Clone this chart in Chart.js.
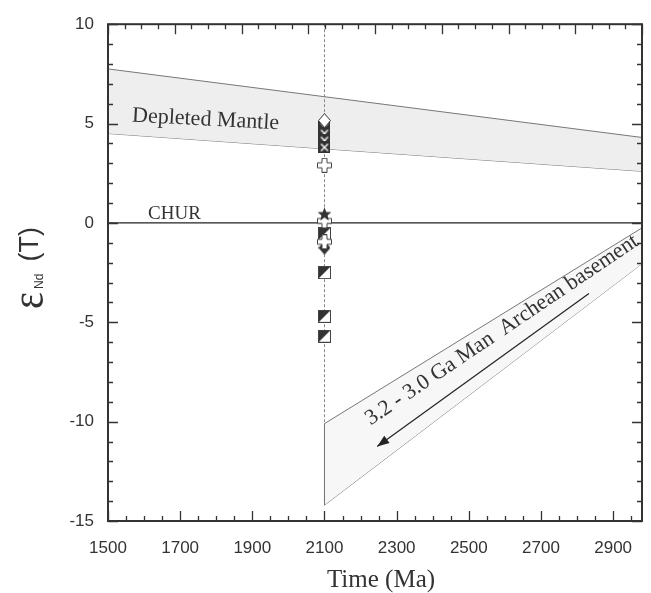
<!DOCTYPE html>
<html><head><meta charset="utf-8">
<script src="https://cdn.jsdelivr.net/npm/chart.js@4"></script>
<style>html,body{margin:0;padding:0;background:#fff}#wrap{width:651px;height:593px;position:relative}</style>
</head><body><div id="wrap"><canvas id="c" width="651" height="593" style="width:651px;height:593px"></canvas></div>
<script>
// ---------- data ----------
const xMajorTicks = [1500, 1700, 1900, 2100, 2300, 2500, 2700, 2900];
const yMajorTicks = [-15, -10, -5, 0, 5, 10];
const xRange = [1500, 2980];
const yRange = [-15, 10];
const xMinorStep = 50;
const yMinorStep = 1;
const topMajorCount = 8;   // top frame axis: 8 major divisions
const topMinorPerMajor = 4;

const sampleAge = 2100;
const openDiamondEps = [5.15];
const crossSquareEps = [4.85, 4.5, 4.15, 3.8];
const openPlusEps = [2.9, 0.1, -0.95];
const starEps = [0.45];
const halfSquareEps = [-0.55, -2.5, -4.7, -5.7];
const darkDiamondEps = [-1.25];

const dmAge = [1500, 2980];
const dmUpper = [7.75, 4.3];
const dmLower = [4.5, 2.6];

const archAge = [2100, 2980];
const archUpper = [-10.1, -0.25];
const archLower = [-14.2, -2.05];

const churAge = [1500, 2980];
const churEps = [0, 0];

const arrowAge = [2833, 2246];
const arrowEps = [-3.55, -11.25];

const textDM = 'Depleted Mantle';
const textCHUR = 'CHUR';
const textArch = '3.2 - 3.0 Ga Man  Archean basement';
const textX = 'Time (Ma)';

// ---------- helpers ----------
const pts = (xs, ys) => ys.map((v, i) => ({x: xs[i], y: v}));
const col = (ys) => ys.map(v => ({x: sampleAge, y: v}));
function mk(w, h, draw) { const c = document.createElement('canvas'); c.width = w; c.height = h; draw(c.getContext('2d'), w, h); return c; }
const INK = '#333';
const openDiamond = mk(13, 15, (g) => { g.beginPath(); g.moveTo(6.5,0.5); g.lineTo(12.5,7.5); g.lineTo(6.5,14.5); g.lineTo(0.5,7.5); g.closePath(); g.fillStyle='#fff'; g.fill(); g.strokeStyle=INK; g.lineWidth=1; g.stroke(); });
const crossSquare = mk(12, 12, (g) => { g.fillStyle=INK; g.fillRect(0,0,12,12); g.strokeStyle='#fff'; g.lineWidth=1.4; g.beginPath(); g.moveTo(2.5,2.5); g.lineTo(9.5,9.5); g.moveTo(9.5,2.5); g.lineTo(2.5,9.5); g.stroke(); });
const openPlus = mk(15, 15, (g) => { const p=[[5,0.5],[10,0.5],[10,5],[14.5,5],[14.5,10],[10,10],[10,14.5],[5,14.5],[5,10],[0.5,10],[0.5,5],[5,5]]; g.beginPath(); p.forEach((q,i)=> i?g.lineTo(q[0],q[1]):g.moveTo(q[0],q[1])); g.closePath(); g.fillStyle='#fff'; g.fill(); g.strokeStyle='#444'; g.lineWidth=1; g.stroke(); });
const star = mk(15, 15, (g) => { g.beginPath(); for (let i=0;i<10;i++){ const r = i%2?3:7.3; const a = -Math.PI/2 + i*Math.PI/5; const px=7.5+r*Math.cos(a), py=8+r*Math.sin(a); i?g.lineTo(px,py):g.moveTo(px,py);} g.closePath(); g.fillStyle=INK; g.fill(); });
const halfSquare = mk(13, 13, (g) => { g.fillStyle='#fff'; g.fillRect(0,0,13,13); g.beginPath(); g.moveTo(0,0); g.lineTo(13,0); g.lineTo(0,13); g.closePath(); g.fillStyle=INK; g.fill(); g.strokeStyle='#444'; g.lineWidth=1; g.strokeRect(0.5,0.5,12,12); });
const darkDiamond = mk(12, 14, (g) => { g.beginPath(); g.moveTo(6,0); g.lineTo(12,7); g.lineTo(6,14); g.lineTo(0,7); g.closePath(); g.fillStyle=INK; g.fill(); });

const lineDS = (data, extra) => Object.assign({data, showLine: true, pointRadius: 0, borderColor: '#777', borderWidth: 1, fill: false, tension: 0, order: 20}, extra);
const markDS = (data, style, order) => ({data, showLine: false, pointStyle: style, pointRadius: 6, order});

const annot = {
  id: 'annot',
  afterDatasetsDraw(chart) {
    const {ctx, chartArea: a, scales: {x, y, xTop}} = chart;
    ctx.save();
    // arrowhead
    const x1 = x.getPixelForValue(arrowAge[0]), y1 = y.getPixelForValue(arrowEps[0]);
    const x2 = x.getPixelForValue(arrowAge[1]), y2 = y.getPixelForValue(arrowEps[1]);
    const ang = Math.atan2(y2 - y1, x2 - x1);
    ctx.translate(x2, y2); ctx.rotate(ang);
    ctx.beginPath(); ctx.moveTo(0, 0); ctx.lineTo(-12, -4.5); ctx.lineTo(-12, 4.5); ctx.closePath();
    ctx.fillStyle = '#222'; ctx.fill();
    ctx.restore();

    // texts
    ctx.save();
    ctx.fillStyle = '#333';
    ctx.textBaseline = 'alphabetic';
    ctx.font = '22px "Liberation Serif", "Times New Roman", serif';
    ctx.save(); ctx.translate(x.getPixelForValue(1566), y.getPixelForValue(5.1)); ctx.rotate(3 * Math.PI / 180); ctx.fillText(textDM, 0, 0); ctx.restore();
    ctx.font = '19px "Liberation Serif", "Times New Roman", serif';
    ctx.fillText(textCHUR, x.getPixelForValue(1611), y.getPixelForValue(0.2));
    ctx.font = '22px "Liberation Serif", "Times New Roman", serif';
    ctx.save(); ctx.translate(x.getPixelForValue(2228), y.getPixelForValue(-10.2)); ctx.rotate(-34 * Math.PI / 180); ctx.fillText(textArch, 0, 0); ctx.restore();
    // x title
    ctx.font = '25px "Liberation Serif", "Times New Roman", serif';
    ctx.textAlign = 'center';
    ctx.fillText(textX, (a.left + a.right) / 2 + 6, 587);
    // y title
    ctx.save();
    ctx.translate(44, 268); ctx.rotate(-Math.PI / 2);
    ctx.textAlign = 'left';
    const fE = '46px "Liberation Serif", "Times New Roman", serif', fS = '12px "Liberation Sans", Arial, sans-serif', fT = '27px "Liberation Sans", Arial, sans-serif';
    ctx.font = fE; const wE = ctx.measureText('ε').width * 0.88;
    ctx.font = fS; const wS = ctx.measureText('Nd').width;
    ctx.font = fT; const wT = ctx.measureText('(T)').width;
    const total = wE + 3 + wS + 12 + wT; let cx = -total / 2;
    ctx.save(); ctx.translate(cx, -1); ctx.scale(0.88, 1); ctx.font = fE; ctx.fillText('ε', 0, 0); ctx.restore();
    cx += wE + 3;
    ctx.font = fS; ctx.fillText('Nd', cx, -1); cx += wS + 12;
    ctx.font = fT; ctx.fillText('(T)', cx, -6);
    ctx.restore();
    ctx.restore();

    // frame + inward ticks
    ctx.save();
    ctx.strokeStyle = '#333'; ctx.lineWidth = 1.3;
    const majX = x.ticks.map(t => t.value), majY = y.ticks.map(t => t.value);
    ctx.beginPath();
    for (let v = xRange[0]; v <= xRange[1] + 1e-9; v += xMinorStep) {
      const p = Math.round(x.getPixelForValue(v)) + 0.5;
      const L = majX.includes(v) ? 10 : 5;
      ctx.moveTo(p, a.bottom); ctx.lineTo(p, a.bottom - L);
    }
    for (let k = 0; k <= topMajorCount * topMinorPerMajor; k++) {
      const p = Math.round(xTop.getPixelForValue(k / topMinorPerMajor)) + 0.5;
      const L = k % topMinorPerMajor === 0 ? 10 : 5;
      ctx.moveTo(p, a.top); ctx.lineTo(p, a.top + L);
    }
    for (let v = yRange[0]; v <= yRange[1] + 1e-9; v += yMinorStep) {
      const p = Math.round(y.getPixelForValue(v)) + 0.5;
      const L = majY.includes(v) ? 10 : 5;
      ctx.moveTo(a.left, p); ctx.lineTo(a.left + L, p);
      ctx.moveTo(a.right, p); ctx.lineTo(a.right - L, p);
    }
    ctx.stroke();
    ctx.lineWidth = 2;
    ctx.strokeRect(a.left, a.top, a.right - a.left, a.bottom - a.top);
    ctx.restore();
  }
};

new Chart(document.getElementById('c'), {
  type: 'scatter',
  data: {
    datasets: [
      markDS(col(openDiamondEps), openDiamond, 1),
      markDS(col(crossSquareEps), crossSquare, 2),
      markDS(col(starEps), star, 2),
      markDS(col(openPlusEps), openPlus, 3),
      markDS(col(darkDiamondEps), darkDiamond, 4),
      markDS(col(halfSquareEps), halfSquare, 3),
      lineDS(pts(churAge, churEps), {borderColor: '#222', borderWidth: 1.3, order: 10}),
      lineDS(pts(arrowAge, arrowEps), {borderColor: '#222', borderWidth: 1.2, order: 10}),
      lineDS([{x: sampleAge, y: yRange[1]}, {x: sampleAge, y: archUpper[0]}], {borderColor: '#888', borderWidth: 1, borderDash: [3, 2], order: 11}),
      lineDS([{x: archAge[0], y: archUpper[0]}, {x: archAge[0], y: archLower[0]}], {borderColor: '#777', order: 12}),
      lineDS(pts(archAge, archUpper), {fill: '+1', backgroundColor: '#f7f7f7', order: 13}),
      lineDS(pts(archAge, archLower), {order: 14}),
      lineDS(pts(dmAge, dmUpper), {fill: '+1', backgroundColor: '#eeeeee', order: 15}),
      lineDS(pts(dmAge, dmLower), {order: 16})
    ]
  },
  options: {
    responsive: false,
    animation: false,
    devicePixelRatio: 1,
    layout: {padding: {top: 20, right: 9, left: 0, bottom: 0}},
    plugins: {legend: {display: false}, tooltip: {enabled: false}},
    scales: {
      x: {
        type: 'linear', min: xRange[0], max: xRange[1],
        afterBuildTicks: (s) => { s.ticks = xMajorTicks.map(v => ({value: v})); },
        afterFit: (s) => { s.height = 72; },
        grid: {display: false, drawTicks: false},
        border: {display: false},
        ticks: {padding: 17, maxRotation: 0, minRotation: 0, autoSkip: false, callback: (v) => String(v), color: '#333', font: {family: '"Liberation Sans", Arial, sans-serif', size: 17}}
      },
      xTop: {
        type: 'linear', position: 'top', min: 0, max: topMajorCount,
        afterFit: (s) => { s.height = 0; },
        grid: {display: false, drawTicks: false},
        border: {display: false},
        ticks: {display: false}
      },
      y: {
        type: 'linear', min: yRange[0], max: yRange[1],
        afterBuildTicks: (s) => { s.ticks = yMajorTicks.map(v => ({value: v})); },
        afterFit: (s) => { s.width = 108; },
        grid: {display: false, drawTicks: false},
        border: {display: false},
        ticks: {padding: 14, autoSkip: false, callback: (v) => String(v), color: '#333', font: {family: '"Liberation Sans", Arial, sans-serif', size: 17}}
      }
    }
  },
  plugins: [annot]
});
</script>
</body></html>
